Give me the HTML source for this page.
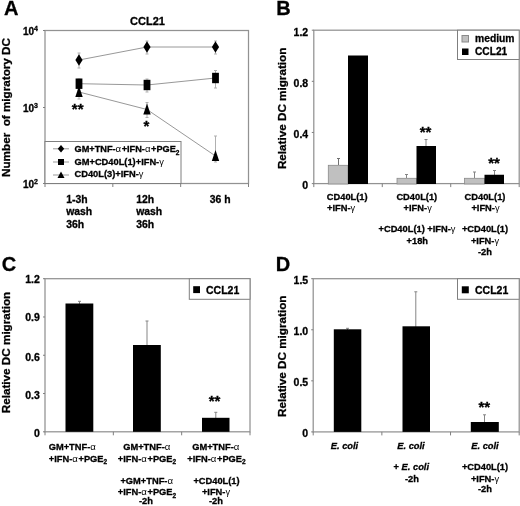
<!DOCTYPE html>
<html><head><meta charset="utf-8"><title>Figure</title>
<style>
html,body{margin:0;padding:0;background:#fff;}
svg{display:block;filter:grayscale(1);}
svg text{font-family:"Liberation Sans",sans-serif;fill:#000;stroke:#000;stroke-width:0.3px;}
svg .g{font-weight:normal;stroke:none;}
</style></head><body>
<svg width="520" height="506" viewBox="0 0 520 506">
<defs><filter id="soft" x="0" y="0" width="100%" height="100%" filterUnits="userSpaceOnUse" color-interpolation-filters="sRGB"><feGaussianBlur stdDeviation="0.4"/></filter></defs>
<rect width="520" height="506" fill="#fff"/>
<g filter="url(#soft)">
<text x="4" y="14.8" font-size="20" text-anchor="start" font-weight="bold">A</text>
<text x="147.5" y="25" font-size="11" text-anchor="middle" font-weight="bold">CCL21</text>
<rect x="45" y="30.5" width="203.5" height="153.0" fill="none" stroke="#929292" stroke-width="1.25"/>
<line x1="43" y1="30.5" x2="45" y2="30.5" stroke="#7f7f7f" stroke-width="1"/>
<line x1="43" y1="107.5" x2="45" y2="107.5" stroke="#7f7f7f" stroke-width="1"/>
<line x1="43" y1="183.5" x2="45" y2="183.5" stroke="#7f7f7f" stroke-width="1"/>
<line x1="45.0" y1="183.5" x2="45.0" y2="187.0" stroke="#7f7f7f" stroke-width="1"/>
<line x1="112.83333333333333" y1="183.5" x2="112.83333333333333" y2="187.0" stroke="#7f7f7f" stroke-width="1"/>
<line x1="180.66666666666666" y1="183.5" x2="180.66666666666666" y2="187.0" stroke="#7f7f7f" stroke-width="1"/>
<line x1="248.5" y1="183.5" x2="248.5" y2="187.0" stroke="#7f7f7f" stroke-width="1"/>
<text x="38" y="35" font-size="10" text-anchor="end" font-weight="bold">10<tspan font-size="7" dy="-4">4</tspan></text>
<text x="38" y="111.5" font-size="10" text-anchor="end" font-weight="bold">10<tspan font-size="7" dy="-4">3</tspan></text>
<text x="38" y="188" font-size="10" text-anchor="end" font-weight="bold">10<tspan font-size="7" dy="-4">2</tspan></text>
<text transform="translate(10.3,107.5) rotate(-90)" font-size="11.7" text-anchor="middle" font-weight="bold">Number&#160; of migratory DC</text>
<polyline points="79,60 147,47 215.5,47" fill="none" stroke="#8c8c8c" stroke-width="0.9"/>
<polyline points="79,83.7 147,85 215.5,78" fill="none" stroke="#8c8c8c" stroke-width="0.9"/>
<polyline points="79,92 147,109.5 215.5,156" fill="none" stroke="#8c8c8c" stroke-width="0.9"/>
<line x1="79" y1="53" x2="79" y2="68" stroke="#b0b0b0" stroke-width="1"/>
<line x1="77.5" y1="53" x2="80.5" y2="53" stroke="#b0b0b0" stroke-width="1"/>
<line x1="77.5" y1="68" x2="80.5" y2="68" stroke="#b0b0b0" stroke-width="1"/>
<line x1="147" y1="41" x2="147" y2="54" stroke="#b0b0b0" stroke-width="1"/>
<line x1="145.5" y1="41" x2="148.5" y2="41" stroke="#b0b0b0" stroke-width="1"/>
<line x1="145.5" y1="54" x2="148.5" y2="54" stroke="#b0b0b0" stroke-width="1"/>
<line x1="215.5" y1="41" x2="215.5" y2="54" stroke="#b0b0b0" stroke-width="1"/>
<line x1="214.0" y1="41" x2="217.0" y2="41" stroke="#b0b0b0" stroke-width="1"/>
<line x1="214.0" y1="54" x2="217.0" y2="54" stroke="#b0b0b0" stroke-width="1"/>
<line x1="79" y1="79" x2="79" y2="90" stroke="#b0b0b0" stroke-width="1"/>
<line x1="77.5" y1="79" x2="80.5" y2="79" stroke="#b0b0b0" stroke-width="1"/>
<line x1="77.5" y1="90" x2="80.5" y2="90" stroke="#b0b0b0" stroke-width="1"/>
<line x1="147" y1="79" x2="147" y2="92" stroke="#b0b0b0" stroke-width="1"/>
<line x1="145.5" y1="79" x2="148.5" y2="79" stroke="#b0b0b0" stroke-width="1"/>
<line x1="145.5" y1="92" x2="148.5" y2="92" stroke="#b0b0b0" stroke-width="1"/>
<line x1="215.5" y1="70.5" x2="215.5" y2="88" stroke="#b0b0b0" stroke-width="1"/>
<line x1="214.0" y1="70.5" x2="217.0" y2="70.5" stroke="#b0b0b0" stroke-width="1"/>
<line x1="214.0" y1="88" x2="217.0" y2="88" stroke="#b0b0b0" stroke-width="1"/>
<line x1="79" y1="88" x2="79" y2="99" stroke="#b0b0b0" stroke-width="1"/>
<line x1="77.5" y1="88" x2="80.5" y2="88" stroke="#b0b0b0" stroke-width="1"/>
<line x1="77.5" y1="99" x2="80.5" y2="99" stroke="#b0b0b0" stroke-width="1"/>
<line x1="147" y1="102.5" x2="147" y2="117.5" stroke="#b0b0b0" stroke-width="1"/>
<line x1="145.5" y1="102.5" x2="148.5" y2="102.5" stroke="#b0b0b0" stroke-width="1"/>
<line x1="145.5" y1="117.5" x2="148.5" y2="117.5" stroke="#b0b0b0" stroke-width="1"/>
<line x1="215.5" y1="136" x2="215.5" y2="162" stroke="#b0b0b0" stroke-width="1"/>
<line x1="214.0" y1="136" x2="217.0" y2="136" stroke="#b0b0b0" stroke-width="1"/>
<line x1="214.0" y1="162" x2="217.0" y2="162" stroke="#b0b0b0" stroke-width="1"/>
<polygon points="79,86 82.7,97 75.3,97" fill="#000"/>
<polygon points="147,103.5 150.7,114.5 143.3,114.5" fill="#000"/>
<polygon points="215.5,150 219.2,161 211.8,161" fill="#000"/>
<rect x="75.6" y="78.5" width="6.8" height="10.4" fill="#000"/>
<rect x="143.6" y="79.8" width="6.8" height="10.4" fill="#000"/>
<rect x="212.1" y="72.8" width="6.8" height="10.4" fill="#000"/>
<polygon points="79,54.3 82.6,60 79,65.7 75.4,60" fill="#000"/>
<polygon points="147,41.3 150.6,47 147,52.7 143.4,47" fill="#000"/>
<polygon points="215.5,41.3 219.1,47 215.5,52.7 211.9,47" fill="#000"/>
<text x="77.7" y="114" font-size="15" text-anchor="middle" font-weight="bold">**</text>
<text x="146.5" y="131.2" font-size="15" text-anchor="middle" font-weight="bold">*</text>
<rect x="45" y="141.5" width="136" height="42.0" fill="#fff" stroke="#7f7f7f" stroke-width="1"/>
<line x1="53" y1="148.8" x2="69" y2="148.8" stroke="#999" stroke-width="1"/>
<line x1="53" y1="162" x2="69" y2="162" stroke="#999" stroke-width="1"/>
<line x1="53" y1="175" x2="69" y2="175" stroke="#999" stroke-width="1"/>
<polygon points="61,145 64.2,148.8 61,152.6 57.8,148.8" fill="#000"/>
<rect x="58" y="159" width="6" height="6" fill="#000"/>
<polygon points="61,171.5 64.5,178 57.5,178" fill="#000"/>
<text x="74.5" y="152" font-size="9.2" text-anchor="start" font-weight="bold">GM+TNF-<tspan class="g" font-size="9.6" letter-spacing="0.55">α</tspan>+IFN-<tspan class="g" font-size="9.6" letter-spacing="0.55">α</tspan>+PGE<tspan font-size="6.5" dy="2.5">2</tspan></text>
<text x="74.5" y="165" font-size="9.3" text-anchor="start" font-weight="bold">GM+CD40L(1)+IFN-<tspan class="g">γ</tspan></text>
<text x="74.5" y="177.2" font-size="9.3" text-anchor="start" font-weight="bold">CD40L(3)+IFN-<tspan class="g">γ</tspan></text>
<text x="66.2" y="202.5" font-size="10.4" text-anchor="start" font-weight="bold">1-3h</text>
<text x="66.2" y="215.0" font-size="10.4" text-anchor="start" font-weight="bold">wash</text>
<text x="66.2" y="227.5" font-size="10.4" text-anchor="start" font-weight="bold">36h</text>
<text x="136.2" y="202.5" font-size="10.4" text-anchor="start" font-weight="bold">12h</text>
<text x="136.2" y="215.0" font-size="10.4" text-anchor="start" font-weight="bold">wash</text>
<text x="136.2" y="227.5" font-size="10.4" text-anchor="start" font-weight="bold">36h</text>
<text x="209.7" y="202.5" font-size="10.4" text-anchor="start" font-weight="bold">36 h</text>
<text x="276.3" y="15" font-size="20" text-anchor="start" font-weight="bold">B</text>
<rect x="313.8" y="30.2" width="205.40000000000003" height="153.4" fill="none" stroke="#929292" stroke-width="1.25"/>
<line x1="311.8" y1="183.6" x2="313.8" y2="183.6" stroke="#7f7f7f" stroke-width="1"/>
<text x="308.2" y="189.1" font-size="10.5" text-anchor="end" font-weight="bold">0</text>
<line x1="311.8" y1="132.46666666666667" x2="313.8" y2="132.46666666666667" stroke="#7f7f7f" stroke-width="1"/>
<text x="308.2" y="137.96666666666667" font-size="10.5" text-anchor="end" font-weight="bold">0.4</text>
<line x1="311.8" y1="81.33333333333333" x2="313.8" y2="81.33333333333333" stroke="#7f7f7f" stroke-width="1"/>
<text x="308.2" y="86.83333333333333" font-size="10.5" text-anchor="end" font-weight="bold">0.8</text>
<line x1="311.8" y1="30.19999999999999" x2="313.8" y2="30.19999999999999" stroke="#7f7f7f" stroke-width="1"/>
<text x="308.2" y="35.69999999999999" font-size="10.5" text-anchor="end" font-weight="bold">1.2</text>
<line x1="313.8" y1="183.6" x2="313.8" y2="187.1" stroke="#7f7f7f" stroke-width="1"/>
<line x1="382.2666666666667" y1="183.6" x2="382.2666666666667" y2="187.1" stroke="#7f7f7f" stroke-width="1"/>
<line x1="450.73333333333335" y1="183.6" x2="450.73333333333335" y2="187.1" stroke="#7f7f7f" stroke-width="1"/>
<line x1="519.2" y1="183.6" x2="519.2" y2="187.1" stroke="#7f7f7f" stroke-width="1"/>
<text transform="translate(286,108.4) rotate(-90)" font-size="11.7" text-anchor="middle" font-weight="bold">Relative DC migration</text>
<line x1="338.5" y1="158.5" x2="338.5" y2="165" stroke="#707070" stroke-width="1"/>
<line x1="337.0" y1="158.5" x2="340.0" y2="158.5" stroke="#707070" stroke-width="1"/>
<line x1="406.5" y1="174.5" x2="406.5" y2="178" stroke="#858585" stroke-width="1"/>
<line x1="405.0" y1="174.5" x2="408.0" y2="174.5" stroke="#858585" stroke-width="1"/>
<line x1="426" y1="139.5" x2="426" y2="146" stroke="#858585" stroke-width="1"/>
<line x1="424.5" y1="139.5" x2="427.5" y2="139.5" stroke="#858585" stroke-width="1"/>
<line x1="474.5" y1="172" x2="474.5" y2="178" stroke="#858585" stroke-width="1"/>
<line x1="473.0" y1="172" x2="476.0" y2="172" stroke="#858585" stroke-width="1"/>
<line x1="494.5" y1="170.5" x2="494.5" y2="175" stroke="#858585" stroke-width="1"/>
<line x1="493.0" y1="170.5" x2="496.0" y2="170.5" stroke="#858585" stroke-width="1"/>
<rect x="328.3" y="165.3" width="19.69999999999999" height="18.69999999999999" fill="#c0c0c0" stroke="#8a8a8a" stroke-width="0.8"/>
<rect x="348" y="55.5" width="20" height="128.5" fill="#000"/>
<rect x="397" y="178.3" width="19.5" height="5.699999999999989" fill="#c0c0c0" stroke="#8a8a8a" stroke-width="0.8"/>
<rect x="416.5" y="146" width="19.5" height="38.0" fill="#000"/>
<rect x="464.5" y="178.3" width="20.0" height="5.699999999999989" fill="#c0c0c0" stroke="#8a8a8a" stroke-width="0.8"/>
<rect x="484.5" y="174.75" width="19.5" height="9.25" fill="#000"/>
<text x="425.5" y="137.1" font-size="15" text-anchor="middle" font-weight="bold">**</text>
<text x="494" y="167.7" font-size="15" text-anchor="middle" font-weight="bold">**</text>
<rect x="457.5" y="30.2" width="61.700000000000045" height="29.3" fill="#fff" stroke="#7f7f7f" stroke-width="1"/>
<rect x="462" y="35.5" width="6.5" height="6.5" fill="#c0c0c0" stroke="#8a8a8a" stroke-width="1"/>
<rect x="462" y="48.5" width="6.5" height="6.5" fill="#000"/>
<text x="475" y="41.8" font-size="10.3" text-anchor="start" font-weight="bold">medium</text>
<text x="475" y="55.2" font-size="10.2" text-anchor="start" font-weight="bold">CCL21</text>
<text x="347.2" y="199.5" font-size="9.3" text-anchor="middle" font-weight="bold">CD40L(1)</text>
<text x="416.8" y="199.5" font-size="9.3" text-anchor="middle" font-weight="bold">CD40L(1)</text>
<text x="485" y="199.5" font-size="9.3" text-anchor="middle" font-weight="bold">CD40L(1)</text>
<text x="327" y="211.2" font-size="9.3" text-anchor="start" font-weight="bold">+IFN-<tspan class="g">γ</tspan></text>
<text x="417.7" y="211.2" font-size="9.3" text-anchor="middle" font-weight="bold">+IFN-<tspan class="g">γ</tspan></text>
<text x="485.5" y="211.2" font-size="9.3" text-anchor="middle" font-weight="bold">+IFN-<tspan class="g">γ</tspan></text>
<text x="417" y="231.5" font-size="9.3" text-anchor="middle" font-weight="bold">+CD40L(1) +IFN-<tspan class="g">γ</tspan></text>
<text x="417.3" y="243.5" font-size="9.3" text-anchor="middle" font-weight="bold">+18h</text>
<text x="485" y="231.5" font-size="9.3" text-anchor="middle" font-weight="bold">+CD40L(1)</text>
<text x="485" y="243.5" font-size="9.3" text-anchor="middle" font-weight="bold">+IFN-<tspan class="g">γ</tspan></text>
<text x="485" y="254.7" font-size="9.3" text-anchor="middle" font-weight="bold">-2h</text>
<text x="1.8" y="271.2" font-size="20" text-anchor="start" font-weight="bold">C</text>
<rect x="45" y="278.7" width="205" height="153.10000000000002" fill="none" stroke="#929292" stroke-width="1.25"/>
<line x1="43" y1="431.8" x2="45" y2="431.8" stroke="#7f7f7f" stroke-width="1"/>
<text x="39.8" y="437" font-size="10.5" text-anchor="end" font-weight="bold">0</text>
<line x1="43" y1="393.525" x2="45" y2="393.525" stroke="#7f7f7f" stroke-width="1"/>
<text x="39.8" y="398.5" font-size="10.5" text-anchor="end" font-weight="bold">0.3</text>
<line x1="43" y1="355.25" x2="45" y2="355.25" stroke="#7f7f7f" stroke-width="1"/>
<text x="39.8" y="361" font-size="10.5" text-anchor="end" font-weight="bold">0.6</text>
<line x1="43" y1="316.975" x2="45" y2="316.975" stroke="#7f7f7f" stroke-width="1"/>
<text x="39.8" y="321" font-size="10.5" text-anchor="end" font-weight="bold">0.9</text>
<line x1="43" y1="278.7" x2="45" y2="278.7" stroke="#7f7f7f" stroke-width="1"/>
<text x="39.8" y="282.7" font-size="10.5" text-anchor="end" font-weight="bold">1.2</text>
<line x1="45.0" y1="431.8" x2="45.0" y2="435.3" stroke="#7f7f7f" stroke-width="1"/>
<line x1="113.33333333333333" y1="431.8" x2="113.33333333333333" y2="435.3" stroke="#7f7f7f" stroke-width="1"/>
<line x1="181.66666666666666" y1="431.8" x2="181.66666666666666" y2="435.3" stroke="#7f7f7f" stroke-width="1"/>
<line x1="250.0" y1="431.8" x2="250.0" y2="435.3" stroke="#7f7f7f" stroke-width="1"/>
<text transform="translate(10.3,352.5) rotate(-90)" font-size="11.7" text-anchor="middle" font-weight="bold">Relative DC migration</text>
<line x1="79.5" y1="301.3" x2="79.5" y2="304" stroke="#858585" stroke-width="1"/>
<line x1="78.0" y1="301.3" x2="81.0" y2="301.3" stroke="#858585" stroke-width="1"/>
<line x1="147" y1="321" x2="147" y2="346" stroke="#858585" stroke-width="1"/>
<line x1="145.5" y1="321" x2="148.5" y2="321" stroke="#858585" stroke-width="1"/>
<line x1="215.8" y1="412.3" x2="215.8" y2="418" stroke="#858585" stroke-width="1"/>
<line x1="214.3" y1="412.3" x2="217.3" y2="412.3" stroke="#858585" stroke-width="1"/>
<rect x="65.5" y="303.5" width="27.799999999999997" height="128.3" fill="#000"/>
<rect x="133" y="345" width="27.80000000000001" height="86.80000000000001" fill="#000"/>
<rect x="202" y="417.8" width="27.5" height="14.0" fill="#000"/>
<text x="214.5" y="406" font-size="15" text-anchor="middle" font-weight="bold">**</text>
<rect x="189.3" y="278.7" width="60.69999999999999" height="20.600000000000023" fill="#fff" stroke="#7f7f7f" stroke-width="1"/>
<rect x="193.2" y="286.2" width="6.8" height="6.9" fill="#000"/>
<text x="206" y="293.5" font-size="10.5" text-anchor="start" font-weight="bold">CCL21</text>
<text x="72.5" y="449.8" font-size="9.3" text-anchor="middle" font-weight="bold">GM+TNF-<tspan class="g" font-size="9.6" letter-spacing="0.55">α</tspan></text>
<text x="78" y="461.5" font-size="9.3" text-anchor="middle" font-weight="bold">+IFN-<tspan class="g" font-size="9.6" letter-spacing="0.55">α</tspan>+PGE<tspan font-size="6.5" dy="2.5">2</tspan></text>
<text x="147" y="449.8" font-size="9.3" text-anchor="middle" font-weight="bold">GM+TNF-<tspan class="g" font-size="9.6" letter-spacing="0.55">α</tspan></text>
<text x="147" y="461.5" font-size="9.3" text-anchor="middle" font-weight="bold">+IFN-<tspan class="g" font-size="9.6" letter-spacing="0.55">α</tspan>+PGE<tspan font-size="6.5" dy="2.5">2</tspan></text>
<text x="216" y="449.8" font-size="9.3" text-anchor="middle" font-weight="bold">GM+TNF-<tspan class="g" font-size="9.6" letter-spacing="0.55">α</tspan></text>
<text x="216.5" y="461.5" font-size="9.3" text-anchor="middle" font-weight="bold">+IFN-<tspan class="g" font-size="9.6" letter-spacing="0.55">α</tspan>+PGE<tspan font-size="6.5" dy="2.5">2</tspan></text>
<text x="147" y="483.5" font-size="9.3" text-anchor="middle" font-weight="bold">+GM+TNF-<tspan class="g" font-size="9.6" letter-spacing="0.55">α</tspan></text>
<text x="147" y="495.3" font-size="9.3" text-anchor="middle" font-weight="bold">+IFN-<tspan class="g" font-size="9.6" letter-spacing="0.55">α</tspan>+PGE<tspan font-size="6.5" dy="2.5">2</tspan></text>
<text x="146" y="504.3" font-size="9.3" text-anchor="middle" font-weight="bold">-2h</text>
<text x="216.5" y="483.5" font-size="9.3" text-anchor="middle" font-weight="bold">+CD40L(1)</text>
<text x="216" y="495.3" font-size="9.3" text-anchor="middle" font-weight="bold">+IFN-<tspan class="g">γ</tspan></text>
<text x="216" y="504.3" font-size="9.3" text-anchor="middle" font-weight="bold">-2h</text>
<text x="275.8" y="270.6" font-size="20" text-anchor="start" font-weight="bold">D</text>
<rect x="313.2" y="278.7" width="206.00000000000006" height="153.2" fill="none" stroke="#929292" stroke-width="1.25"/>
<line x1="311.2" y1="431.9" x2="313.2" y2="431.9" stroke="#7f7f7f" stroke-width="1"/>
<text x="308.2" y="437.4" font-size="10.5" text-anchor="end" font-weight="bold">0</text>
<line x1="311.2" y1="380.8333333333333" x2="313.2" y2="380.8333333333333" stroke="#7f7f7f" stroke-width="1"/>
<text x="308.2" y="386.3333333333333" font-size="10.5" text-anchor="end" font-weight="bold">0.5</text>
<line x1="311.2" y1="329.76666666666665" x2="313.2" y2="329.76666666666665" stroke="#7f7f7f" stroke-width="1"/>
<text x="308.2" y="335.26666666666665" font-size="10.5" text-anchor="end" font-weight="bold">1.0</text>
<line x1="311.2" y1="278.7" x2="313.2" y2="278.7" stroke="#7f7f7f" stroke-width="1"/>
<text x="308.2" y="284.2" font-size="10.5" text-anchor="end" font-weight="bold">1.5</text>
<line x1="313.2" y1="431.9" x2="313.2" y2="435.4" stroke="#7f7f7f" stroke-width="1"/>
<line x1="381.8666666666667" y1="431.9" x2="381.8666666666667" y2="435.4" stroke="#7f7f7f" stroke-width="1"/>
<line x1="450.53333333333336" y1="431.9" x2="450.53333333333336" y2="435.4" stroke="#7f7f7f" stroke-width="1"/>
<line x1="519.2" y1="431.9" x2="519.2" y2="435.4" stroke="#7f7f7f" stroke-width="1"/>
<text transform="translate(285.8,356.3) rotate(-90)" font-size="11.7" text-anchor="middle" font-weight="bold">Relative DC migration</text>
<line x1="347.5" y1="328.3" x2="347.5" y2="330" stroke="#858585" stroke-width="1"/>
<line x1="346.0" y1="328.3" x2="349.0" y2="328.3" stroke="#858585" stroke-width="1"/>
<line x1="415.8" y1="291.8" x2="415.8" y2="327" stroke="#858585" stroke-width="1"/>
<line x1="414.3" y1="291.8" x2="417.3" y2="291.8" stroke="#858585" stroke-width="1"/>
<line x1="484.5" y1="414.8" x2="484.5" y2="423" stroke="#858585" stroke-width="1"/>
<line x1="483.0" y1="414.8" x2="486.0" y2="414.8" stroke="#858585" stroke-width="1"/>
<rect x="333.8" y="329.3" width="27.5" height="102.59999999999997" fill="#000"/>
<rect x="402.5" y="326.3" width="27.5" height="105.59999999999997" fill="#000"/>
<rect x="470.8" y="422" width="28.0" height="9.899999999999977" fill="#000"/>
<text x="484.3" y="412" font-size="15" text-anchor="middle" font-weight="bold">**</text>
<rect x="457.5" y="278.7" width="61.700000000000045" height="20.600000000000023" fill="#fff" stroke="#7f7f7f" stroke-width="1"/>
<rect x="461.8" y="286.3" width="7" height="7" fill="#000"/>
<text x="475" y="293.6" font-size="10.5" text-anchor="start" font-weight="bold">CCL21</text>
<text x="344.5" y="448.5" font-size="9.3" text-anchor="middle" font-weight="bold" font-style="italic">E. coli</text>
<text x="411" y="448.5" font-size="9.3" text-anchor="middle" font-weight="bold" font-style="italic">E. coli</text>
<text x="485" y="448.5" font-size="9.3" text-anchor="middle" font-weight="bold" font-style="italic">E. coli</text>
<text x="411.3" y="470.3" font-size="9.3" text-anchor="middle" font-weight="bold">+ <tspan font-style="italic">E. coli</tspan></text>
<text x="412" y="482" font-size="9.3" text-anchor="middle" font-weight="bold">-2h</text>
<text x="485" y="470.3" font-size="9.3" text-anchor="middle" font-weight="bold">+CD40L(1)</text>
<text x="485" y="482" font-size="9.3" text-anchor="middle" font-weight="bold">+IFN-<tspan class="g">γ</tspan></text>
<text x="485" y="492" font-size="9.3" text-anchor="middle" font-weight="bold">-2h</text>
</g>
</svg>
</body></html>
